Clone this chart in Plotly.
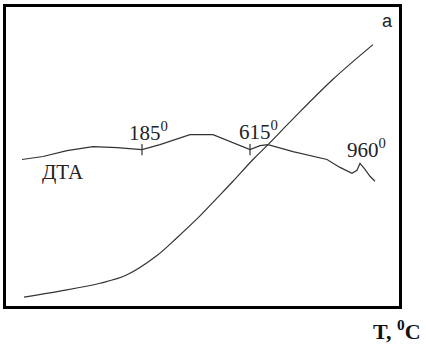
import plotly.graph_objects as go

# Rising temperature curve (arbitrary units)
t_x = [18, 54, 94, 120, 151, 171, 194, 211, 227, 247, 262, 287, 327, 367]
t_y = [9, 15, 23, 31, 51, 69, 91, 109, 126, 148, 163, 189, 229, 264]

# DTA curve
dta_x = [16, 37, 61, 87, 111, 136, 154, 171, 184, 207, 224, 244, 254, 262, 287, 321, 334, 346, 351, 354, 359, 364, 369]
dta_y = [148, 151, 157, 161, 160, 158, 163, 169, 173, 173, 166, 158, 162, 163, 156, 148, 140, 134, 137, 144, 138, 131, 126]

# marked effects
mark_x = [136, 244]
mark_y = [158, 158]
labels = ["185<sup>0</sup>", "615<sup>0</sup>", "960<sup>0</sup>"]
label_x = [121, 231, 339]
label_y = [176, 177, 159]

fig = go.Figure()
fig.add_trace(go.Scatter(x=t_x, y=t_y, mode="lines",
                         line=dict(color="#333333", width=1.2, shape="spline", smoothing=1.0),
                         hoverinfo="skip", showlegend=False))
fig.add_trace(go.Scatter(x=dta_x, y=dta_y, mode="lines",
                         line=dict(color="#333333", width=1.2),
                         hoverinfo="skip", showlegend=False))
fig.add_trace(go.Scatter(x=mark_x, y=mark_y, mode="markers",
                         marker=dict(symbol="line-ns", size=8, line=dict(color="#333333", width=1.2)),
                         hoverinfo="skip", showlegend=False))

serif = "Liberation Serif"
for txt, x, y in zip(labels, label_x, label_y):
    fig.add_annotation(x=x, y=y, text=txt, showarrow=False, xanchor="left", yanchor="middle",
                       font=dict(family=serif, size=21, color="#222222"))
fig.add_annotation(x=34, y=135, text="ДТА", showarrow=False, xanchor="left", yanchor="middle",
                   font=dict(family=serif, size=21, color="#222222"))
fig.add_annotation(x=374, y=288, text="a", showarrow=False, xanchor="left", yanchor="middle",
                   font=dict(family="Liberation Sans", size=18, color="#222222"))
fig.add_annotation(x=0.93, y=-0.08, xref="paper", yref="paper", text="<b>T, <sup>0</sup>C</b>",
                   showarrow=False, xanchor="left", yanchor="middle",
                   font=dict(family=serif, size=22, color="#111111"))

fig.update_xaxes(range=[0, 393], showline=True, mirror=True, linewidth=3, linecolor="black",
                 showgrid=False, zeroline=False, showticklabels=False, ticks="")
fig.update_yaxes(range=[0, 302], showline=True, mirror=True, linewidth=3, linecolor="black",
                 showgrid=False, zeroline=False, showticklabels=False, ticks="")
fig.update_layout(width=426, height=346, margin=dict(l=6, r=27, t=4, b=40),
                  plot_bgcolor="white", paper_bgcolor="white")
fig.write_html("out.html", config={"displayModeBar": False},
               post_script="document.body.style.margin='0';document.body.style.overflow='hidden';")
